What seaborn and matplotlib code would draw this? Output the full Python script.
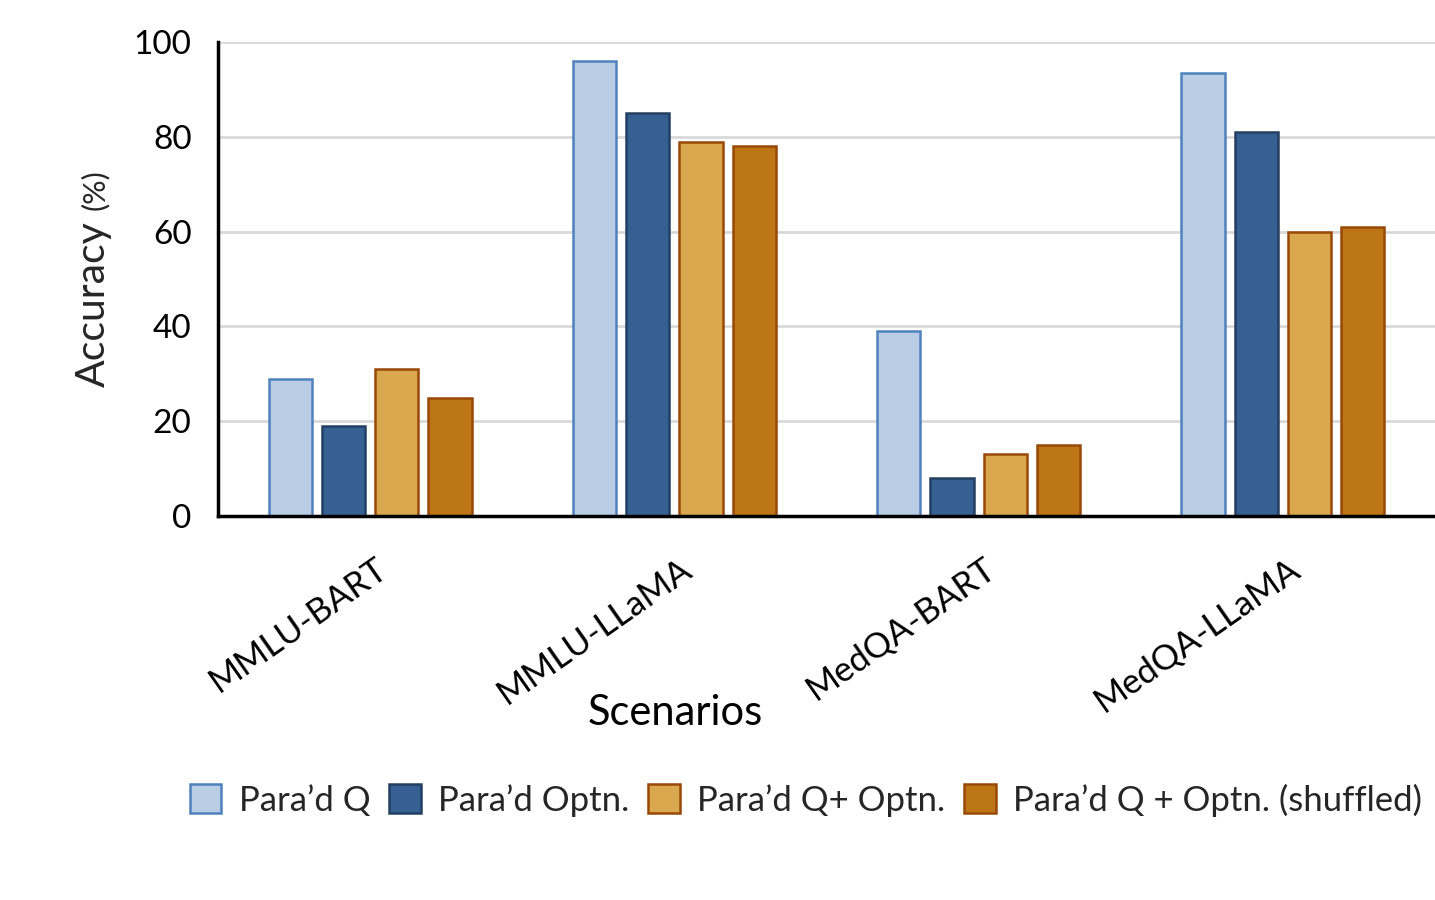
import pandas as pd
import matplotlib.pyplot as plt
import matplotlib.transforms as mtransforms
import seaborn as sns

# Data
scenarios = ["MMLU-BART", "MMLU-LLaMA", "MedQA-BART", "MedQA-LLaMA"]
settings = ["Para\u2019d Q", "Para\u2019d Optn.", "Para\u2019d Q+ Optn.", "Para\u2019d Q + Optn. (shuffled)"]
para_q = [29, 96, 39, 93.5]
para_optn = [19, 85, 8, 81]
para_q_optn = [31, 79, 13, 60]
para_q_optn_shuf = [25, 78, 15, 61]

fills = ["#B9CDE5", "#366092", "#DAA84F", "#BC7616"]
edges = ["#4F81BD", "#243F60", "#984807", "#984807"]

df = pd.DataFrame({
    "Scenario": scenarios * 4,
    "Setting": [s for s in settings for _ in scenarios],
    "Accuracy": para_q + para_optn + para_q_optn + para_q_optn_shuf,
})

sns.set_style("white")
plt.rcParams["font.family"] = ["Lato", "DejaVu Sans"]

fig = plt.figure(figsize=(14.35, 9), dpi=100)
ax = fig.add_axes([218 / 1435, 1 - 516 / 900, 1 - 218 / 1435, 474 / 900])

sns.barplot(data=df, x="Scenario", y="Accuracy", hue="Setting",
            palette=fills, saturation=1, width=0.7, gap=0.19, ax=ax, legend=True)

for cont, ec in zip(ax.containers, edges):
    for bar in cont:
        bar.set_edgecolor(ec)
        bar.set_linewidth(1.8)

ax.set_ylim(0, 100)
ax.set_xlim(-0.5, 3.5)
ax.set_yticks([0, 20, 40, 60, 80, 100])
ax.yaxis.grid(True, color="#D9D9D9", linewidth=2)
ax.set_axisbelow(True)
for side in ["top", "right"]:
    ax.spines[side].set_visible(False)
for side in ["left", "bottom"]:
    ax.spines[side].set_color("black")
    ax.spines[side].set_linewidth(2.5)

ax.tick_params(axis="y", length=0, pad=19, labelsize=24, labelcolor="black")
ax.tick_params(axis="x", length=0, pad=26, labelsize=25, labelcolor="black")
offset = mtransforms.ScaledTranslation(5 / 100, 0, fig.dpi_scale_trans)
for lab in ax.get_xticklabels():
    lab.set_rotation(35)
    lab.set_ha("right")
    lab.set_va("top")
    lab.set_rotation_mode("anchor")
    lab.set_transform(lab.get_transform() + offset)

ax.set_xlabel("Scenarios", fontsize=30, color="black")
ax.xaxis.set_label_coords((675 - 218) / 1217, (516 - 694) / 474)
ax.set_ylabel("")
fig.text(93 / 1435, 1 - 304 / 900, "Accuracy", rotation=90, ha="center", va="center", fontsize=29.5)
fig.text(95 / 1435, 1 - 190 / 900, "(%)", rotation=90, ha="center", va="center", fontsize=22)

ax.legend_.remove()
handles = [plt.Rectangle((0, 0), 1, 1, facecolor=f, edgecolor=e, linewidth=1.8) for f, e in zip(fills, edges)]
fig.legend(handles, settings, loc="center", bbox_to_anchor=(806 / 1435, 1 - 800 / 900),
           ncol=4, frameon=False, fontsize=25, handlelength=0.9, handleheight=0.9,
           handletextpad=0.5, columnspacing=0.55)

fig.savefig("out.png", dpi=100)
